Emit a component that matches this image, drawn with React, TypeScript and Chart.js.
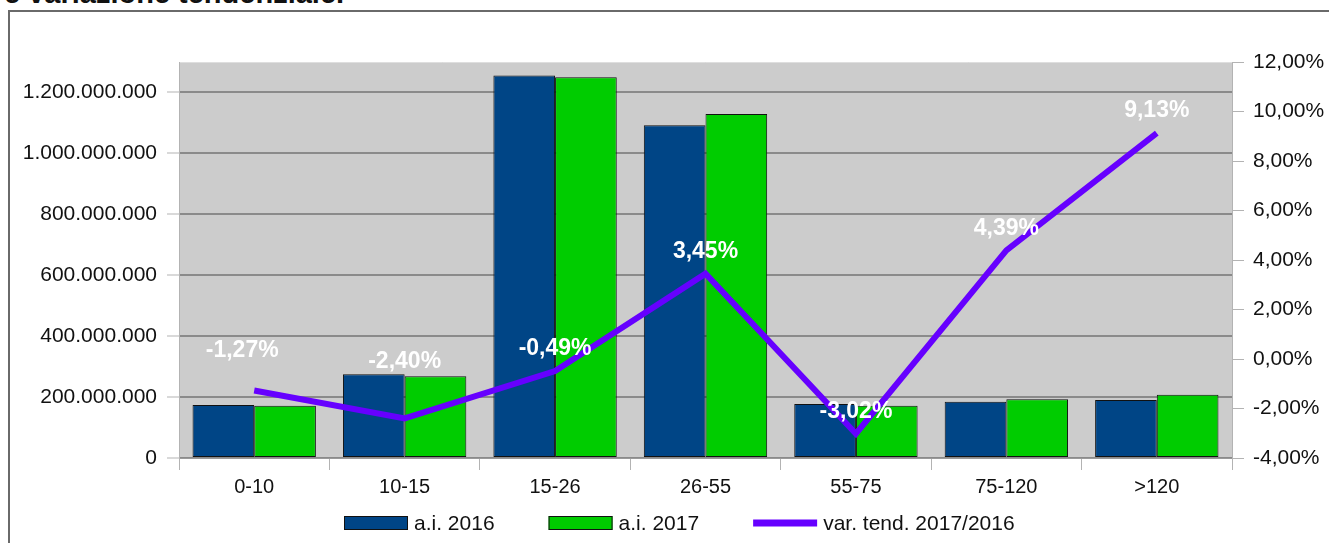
import React, { useEffect, useRef } from "react";
import { Chart, registerables } from "chart.js";
Chart.register(...registerables);

const categories = ["0-10", "10-15", "15-26", "26-55", "55-75", "75-120", ">120"];
const series2016 = [174e6, 275e6, 1256e6, 1092e6, 177e6, 185e6, 190e6];
const series2017 = [171.8e6, 268.4e6, 1249.8e6, 1129.7e6, 171.7e6, 193.1e6, 207.3e6];
const variation = [-1.27, -2.4, -0.49, 3.45, -3.02, 4.39, 9.13];
const seriesLabels = ["a.i. 2016", "a.i. 2017", "var. tend. 2017/2016"];
const leftAxisTicks = [0, 2e8, 4e8, 6e8, 8e8, 10e8, 12e8];
const rightAxisTicks = [-4, -2, 0, 2, 4, 6, 8, 10, 12];
const titleText = "e variazione tendenziale.";

const FONT = "'Liberation Sans', Arial, sans-serif";
const COLORS = ["#004586", "#00cc00", "#6600ff"];

// label placement nudges (dx, dy above point) for the percentage labels
const labelNudges = [
  [-12, 40],
  [0, 57],
  [0, 22],
  [0, 22],
  [0, 22],
  [0, 22],
  [0, 22],
];

const fmtThousands = (v: number) =>
  String(Math.round(v)).replace(/\B(?=(\d{3})+(?!\d))/g, ".");
const fmtPct = (v: number) => v.toFixed(2).replace(".", ",") + "%";

const plotBg = {
  id: "plotBg",
  beforeDraw(chart: any) {
    const { ctx, chartArea: a } = chart;
    ctx.save();
    ctx.fillStyle = "#cccccc";
    ctx.fillRect(a.left, a.top, a.right - a.left, a.bottom - a.top);
    ctx.strokeStyle = "#dedede";
    ctx.lineWidth = 1;
    ctx.beginPath();
    ctx.moveTo(a.left, a.top + 0.5);
    ctx.lineTo(a.right, a.top + 0.5);
    ctx.stroke();
    ctx.restore();
  },
};

const pctLabels = {
  id: "pctLabels",
  afterDatasetsDraw(chart: any) {
    const { ctx } = chart;
    const meta = chart.getDatasetMeta(2);
    ctx.save();
    ctx.font = `bold 23px ${FONT}`;
    ctx.fillStyle = "#ffffff";
    ctx.textAlign = "center";
    ctx.textBaseline = "middle";
    meta.data.forEach((pt: any, i: number) => {
      const [dx, dy] = labelNudges[i] || [0, 22];
      ctx.fillText(fmtPct(variation[i]), pt.x + dx, pt.y - dy);
    });
    ctx.restore();
  },
};

const customLegend = {
  id: "customLegend",
  afterDraw(chart: any) {
    const { ctx } = chart;
    const boxW = 64;
    const gapText = 6;
    const gapItem = 54;
    const cy = 523;
    ctx.save();
    ctx.font = `21px ${FONT}`;
    const widths = seriesLabels.map((t) => ctx.measureText(t).width);
    let x = 344;
    seriesLabels.forEach((t, i) => {
      if (i < 2) {
        ctx.fillStyle = COLORS[i];
        ctx.fillRect(x, cy - 7, boxW, 14);
        ctx.strokeStyle = "#111";
        ctx.lineWidth = 1;
        ctx.strokeRect(x + 0.5, cy - 6.5, boxW - 1, 13);
      } else {
        ctx.fillStyle = COLORS[2];
        ctx.fillRect(x, cy - 3.5, boxW, 7);
      }
      x += boxW + gapText;
      ctx.fillStyle = "#111";
      ctx.textAlign = "left";
      ctx.textBaseline = "middle";
      ctx.fillText(t, x, cy + 1);
      x += widths[i] + gapItem;
    });
    ctx.restore();
  },
};

export default function App() {
  const ref = useRef<HTMLCanvasElement>(null);
  useEffect(() => {
    if (!ref.current) return;
    const chart = new Chart(ref.current, {
      type: "bar",
      data: {
        labels: categories,
        datasets: [
          {
            type: "bar",
            label: seriesLabels[0],
            data: series2016,
            yAxisID: "y",
            backgroundColor: COLORS[0],
            borderColor: "#111",
            borderWidth: 1,
            borderSkipped: false,
            categoryPercentage: 0.82,
            barPercentage: 1,
            order: 2,
          },
          {
            type: "bar",
            label: seriesLabels[1],
            data: series2017,
            yAxisID: "y",
            backgroundColor: COLORS[1],
            borderColor: "#111",
            borderWidth: 1,
            borderSkipped: false,
            categoryPercentage: 0.82,
            barPercentage: 1,
            order: 2,
          },
          {
            type: "line",
            label: seriesLabels[2],
            data: variation,
            yAxisID: "y1",
            borderColor: COLORS[2],
            backgroundColor: COLORS[2],
            borderWidth: 6,
            pointRadius: 0,
            tension: 0,
            order: 0,
          },
        ] as any,
      },
      options: {
        animation: false,
        responsive: false,
        devicePixelRatio: 1,
        layout: { padding: { top: 62, left: 0, right: 0, bottom: 0 } },
        plugins: {
          legend: { display: false },
          tooltip: { enabled: false },
          title: { display: false },
        },
        scales: {
          x: {
            offset: true,
            grid: {
              offset: true,
              drawOnChartArea: false,
              tickLength: 12,
              tickColor: "#b3b3b3",
              color: "#b3b3b3",
            },
            border: { color: "#999999", width: 1 },
            ticks: {
              font: { size: 20, family: FONT },
              color: "#111",
              padding: 5,
            },
            afterFit: (s: any) => {
              s.height = 85;
            },
          },
          y: {
            position: "left",
            min: 0,
            max: 1.3e9,
            afterBuildTicks: (s: any) => {
              s.ticks = leftAxisTicks.map((v) => ({ value: v }));
            },
            ticks: {
              font: { size: 21, family: FONT },
              color: "#111",
              padding: 10,
              callback: (v: any) => fmtThousands(Number(v)),
            },
            grid: {
              color: "#8a8a8a",
              lineWidth: 2,
              tickLength: 12,
              tickColor: "#b3b3b3",
              tickWidth: 1,
            },
            border: { color: "#b3b3b3", width: 1 },
            afterFit: (s: any) => {
              s.width = 179;
            },
          },
          y1: {
            position: "right",
            min: -4,
            max: 12,
            afterBuildTicks: (s: any) => {
              s.ticks = rightAxisTicks.map((v) => ({ value: v }));
            },
            ticks: {
              font: { size: 21, family: FONT },
              color: "#111",
              padding: 9,
              callback: (v: any) => fmtPct(Number(v)),
            },
            grid: {
              drawOnChartArea: false,
              tickLength: 12,
              tickColor: "#b3b3b3",
              color: "#b3b3b3",
            },
            border: { color: "#b3b3b3", width: 1 },
            afterFit: (s: any) => {
              s.width = 97;
            },
          },
        },
      } as any,
      plugins: [plotBg, pctLabels, customLegend],
    });
    return () => chart.destroy();
  }, []);

  return (
    <div
      style={{
        position: "fixed",
        left: 0,
        top: 0,
        width: 1329,
        height: 543,
        overflow: "hidden",
        background: "#ffffff",
      }}
    >
      <div
        style={{
          position: "absolute",
          left: 4,
          top: -21,
          font: `bold 29px ${FONT}`,
          lineHeight: "29px",
          color: "#111",
          whiteSpace: "nowrap",
        }}
      >
        {titleText}
      </div>
      <div
        style={{
          position: "absolute",
          left: 8,
          top: 10,
          width: 1500,
          height: 800,
          borderTop: "2px solid #6a6a6a",
          borderLeft: "2px solid #6a6a6a",
        }}
      />
      <canvas
        ref={ref}
        width={1329}
        height={543}
        style={{ position: "absolute", left: 0, top: 0, width: 1329, height: 543 }}
      />
    </div>
  );
}
